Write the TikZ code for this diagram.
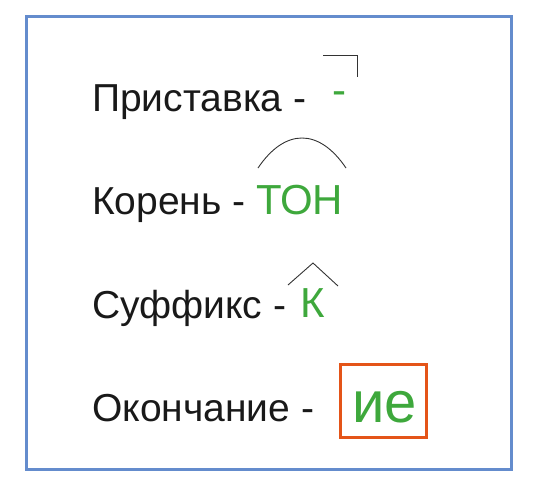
\documentclass[tikz,border=0pt]{standalone}
\usepackage{fontspec}
\setmainfont{Liberation Sans}
\definecolor{frameblue}{RGB}{100,140,205}
\definecolor{mgreen}{RGB}{62,168,60}
\definecolor{boxred}{RGB}{228,84,24}
\definecolor{ink}{RGB}{25,25,25}
\begin{document}
\begin{tikzpicture}[x=1pt,y=-1pt,
  lbl/.style={anchor=base west,inner sep=0pt,text=ink,font=\fontsize{39}{42}\selectfont},
  part/.style={anchor=base west,inner sep=0pt,text=mgreen,font=\fontsize{42}{44}\selectfont},
  morph/.style={draw=black!80,line width=0.9pt}]
\useasboundingbox (0,0) rectangle (536,496);
\draw[frameblue,line width=3pt] (26,16) rectangle (511,469);
\node[lbl] (l1) at (92,111) {Приставка -};
\node[lbl] (l2) at (92,214) {Корень -};
\node[lbl] (l3) at (92,318) {Суффикс -};
\node[lbl] (l4) at (92,421) {Окончание -};
% prefix
\node[part] (p1) at (332,104) {-};
\coordinate (c1) at (323,55);
\coordinate (c2) at (357,55);
\coordinate (c3) at (357,77);
\draw[morph] (c1) -- (c2) -- (c3);
% root
\node[part] (p2) at (256,214) {ТОН};
\coordinate (a1) at (258,168);
\coordinate (a2) at (346,168);
\draw[morph] (a1) .. controls (285,128) and (319,128) .. (a2);
% suffix
\node[part] (p3) at (300,317) {К};
\coordinate (s1) at (288,285);
\coordinate (s2) at (313,263);
\coordinate (s3) at (338,286);
\draw[morph] (s1) -- (s2) -- (s3);
% ending
\node[part,font=\fontsize{58}{60}\selectfont] (p4) at (352,422) {ие};
\node[draw=boxred,line width=3pt,minimum width=86pt,minimum height=73pt,inner sep=0pt] (b4) at (383,400.5) {};
\end{tikzpicture}
\end{document}
